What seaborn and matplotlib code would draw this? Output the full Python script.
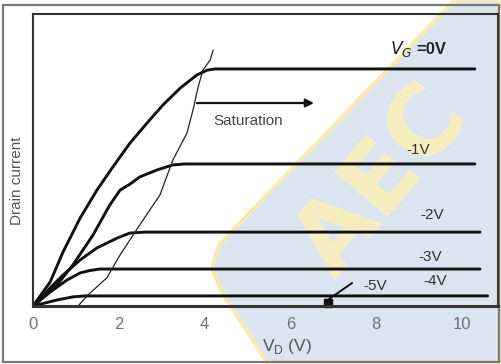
import numpy as np
import pandas as pd
import matplotlib
matplotlib.use("Agg")
import matplotlib.pyplot as plt
import matplotlib.patches as mpatches
import seaborn as sns

# ---- data (V_D in volts, drain current in arbitrary units) ----
vd_0 = [0, 0.40, 0.70, 1.10, 1.49, 1.86, 2.26, 2.66, 3.03, 3.43, 3.82, 4.06, 4.24, 10.30]
id_0 = [0, 1.00, 2.25, 3.67, 4.83, 5.79, 6.79, 7.63, 8.38, 9.08, 9.63, 9.83, 9.88, 9.88]
vd_1 = [0, 0.56, 0.93, 1.40, 1.79, 2.03, 2.26, 2.49, 2.89, 3.26, 3.54, 10.30]
id_1 = [0, 0.88, 1.71, 2.96, 4.21, 4.83, 5.08, 5.38, 5.67, 5.88, 5.92, 5.92]
vd_2 = [0, 0.40, 0.70, 1.10, 1.49, 1.96, 2.26, 2.61, 10.42]
id_2 = [0, 0.75, 1.29, 1.92, 2.42, 2.83, 3.04, 3.08, 3.08]
vd_3 = [0, 0.40, 0.79, 1.10, 1.33, 1.56, 10.42]
id_3 = [0, 0.58, 1.08, 1.38, 1.48, 1.54, 1.54]
vd_4 = [0, 0.56, 0.93, 1.21, 10.60]
id_4 = [0, 0.25, 0.38, 0.42, 0.42]
vd_5 = [0, 10.60]
id_5 = [0, 0]
pinch_vd = [1.05, 1.28, 1.72, 2.03, 2.49, 2.96, 3.26, 3.59, 3.73, 3.85, 3.96, 4.13, 4.20]
pinch_id = [0, 0.46, 1.17, 2.13, 3.38, 4.63, 6.08, 7.21, 8.17, 9.13, 9.83, 10.25, 10.67]

curve_names = ["0V", "-1V", "-2V", "-3V", "-4V", "-5V"]
curve_vd = [vd_0, vd_1, vd_2, vd_3, vd_4, vd_5]
curve_id = [id_0, id_1, id_2, id_3, id_4, id_5]
label_texts = ["-1V", "-2V", "-3V", "-4V", "-5V"]
label_x = [8.97, 9.30, 9.25, 9.37, 7.97]
label_y = [6.50, 3.79, 2.04, 1.04, 0.83]
xticks = [0, 2, 4, 6, 8, 10]
marker_vd = 6.87

frames = []
for n, xs, ys in zip(curve_names, curve_vd, curve_id):
    frames.append(pd.DataFrame({"VD": xs, "ID": ys, "curve": n}))
df = pd.concat(frames, ignore_index=True)
df_p = pd.DataFrame({"VD": pinch_vd, "ID": pinch_id})

sns.set_style("white")
plt.rcParams["font.family"] = ["Liberation Sans", "DejaVu Sans"]

W, H = 501, 364
fig = plt.figure(figsize=(W / 100, H / 100), dpi=100)
fig.patch.set_facecolor("white")

def fp(px, py):
    return (px / W, 1 - py / H)

# watermark (light blue rotated panel + yellow letters)
poly_px = [(455, 0), (262, 200), (219, 245), (212, 268), (222, 292), (268, 364), (501, 364), (501, 0)]
wm = mpatches.Polygon([fp(*p) for p in poly_px], closed=True, transform=fig.transFigure,
                      facecolor="#dde4f1", edgecolor="#f6ecb0", lw=3, zorder=-5)
fig.patches.append(wm)
fig.text(0.765, 0.50, "AEC", rotation=50, fontsize=70, fontweight="bold",
         color="#f8efc0", ha="center", va="center", zorder=-4, family="DejaVu Sans")

# outer frame
fig.patches.append(mpatches.Rectangle(fp(3, 362), (499 - 3) / W, (362 - 5) / H,
                                      transform=fig.transFigure, fill=False,
                                      edgecolor="#7a7a7a", lw=1.6, zorder=-3))

ax = fig.add_axes([33 / W, (H - 306) / H, (498 - 33) / W, (306 - 14) / H])
ax.patch.set_visible(False)

sns.lineplot(data=df, x="VD", y="ID", hue="curve", units="curve", estimator=None,
             sort=False, palette={n: "#111111" for n in curve_names}, lw=2.1,
             legend=False, ax=ax)
sns.lineplot(data=df_p, x="VD", y="ID", estimator=None, sort=False,
             color="#222222", lw=0.9, ax=ax)

ax.set_xlim(0, 10.84)
ax.set_ylim(0, 12.17)
ax.set_xticks(xticks)
ax.set_xticklabels([str(t) for t in xticks])
ax.set_yticks([])
ax.tick_params(axis="x", direction="in", length=7, width=1.2, color="#333333",
               labelsize=12, labelcolor="#707070", pad=8)
for s in ax.spines.values():
    s.set_visible(True)
    s.set_color("#333333")
    s.set_linewidth(1.5)
ax.spines["bottom"].set_linewidth(2.2)

ax.set_xlabel(r"V$_\mathregular{D}$ (V)", fontsize=12.5, color="#555555")
ax.xaxis.set_label_coords(0.546, -0.106)
ax.set_ylabel("Drain current", fontsize=11, color="#555555")
ax.yaxis.set_label_coords(-0.019, 0.43)

# curve labels
ax.text(8.32, 10.71, r"$V_G$", fontsize=12.5, color="#222222", ha="left", va="center")
ax.text(8.93, 10.71, "=0V", fontsize=12, fontweight="bold", color="#222222",
        ha="left", va="center")
for t, x, y in zip(label_texts, label_x, label_y):
    ax.text(x, y, t, fontsize=11, color="#333333", ha="center", va="center")

# saturation arrow
ax.annotate("", xy=(6.55, 8.46), xytext=(3.82, 8.46),
            arrowprops=dict(arrowstyle="-|>", color="#111111", lw=1.6,
                            mutation_scale=12, shrinkA=0, shrinkB=0))
ax.text(5.01, 7.71, "Saturation", fontsize=11, color="#444444", ha="center", va="center")

# -5V pointer
ax.plot([marker_vd], [0.12], marker="s", ms=6, color="#111111", clip_on=False)
ax.plot([marker_vd, 7.44], [0.25, 0.96], color="#111111", lw=1.4)

fig.savefig("out.png", dpi=100)
